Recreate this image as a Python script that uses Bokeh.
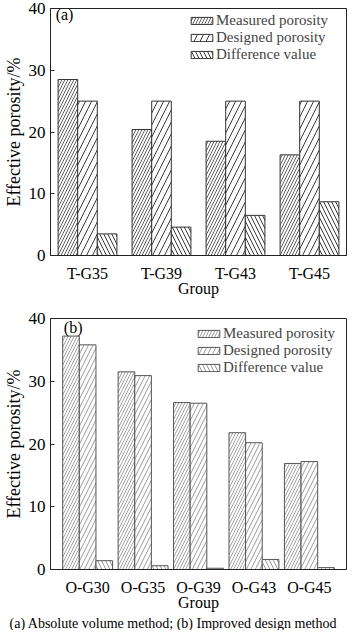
from bokeh.plotting import figure
from bokeh.models import (FactorRange, Range1d, ColumnDataSource, Legend, LegendItem,
                          Label, Title, FixedTicker)
from bokeh.transform import dodge
from bokeh.layouts import column
from bokeh.embed import file_html
from bokeh.resources import INLINE

# ---- data ----
groups_a = ["T-G35", "T-G39", "T-G43", "T-G45"]
measured_a = [28.5, 20.4, 18.5, 16.3]
designed_a = [25.0, 25.0, 25.0, 25.0]
difference_a = [3.5, 4.6, 6.5, 8.7]

groups_b = ["O-G30", "O-G35", "O-G39", "O-G43", "O-G45"]
measured_b = [37.2, 31.5, 26.6, 21.8, 16.9]
designed_b = [35.8, 30.9, 26.5, 20.2, 17.2]
difference_b = [1.4, 0.6, 0.2, 1.6, 0.3]

series_names = ["Measured porosity", "Designed porosity", "Difference value"]
y_ticks = [0, 10, 20, 30, 40]

FONT = "Liberation Serif"


def make_panel(groups, meas, des, diff, tag, tag_y, height, top, bottom, bar_w, pad,
               hatch_col, line_col, scales, legend_loc, caption=None):
    src = ColumnDataSource(dict(group=groups, measured=meas, designed=des, diff=diff))
    xr = FactorRange(factors=groups, range_padding=pad, range_padding_units="absolute")
    p = figure(x_range=xr, y_range=Range1d(0, 40), width=348, height=height,
               output_backend="svg", toolbar_location=None,
               min_border_left=44, min_border_right=2,
               min_border_top=top, min_border_bottom=bottom)
    p.background_fill_color = "white"
    p.border_fill_color = "white"
    p.xgrid.visible = False
    p.ygrid.visible = False
    p.outline_line_color = "#222222"
    p.outline_line_width = 1

    fields = ["measured", "designed", "diff"]
    offsets = [-bar_w, 0.0, bar_w]
    patterns = ["/", "/", "\\"]
    rends = []
    for f, off, pat, (sc, wt) in zip(fields, offsets, patterns, scales):
        r = p.vbar(x=dodge("group", off, range=p.x_range), top=f, width=bar_w,
                   source=src, fill_color="white", line_color=line_col, line_width=1,
                   hatch_pattern=pat, hatch_scale=sc, hatch_color=hatch_col,
                   hatch_weight=wt)
        rends.append(r)

    legend = Legend(items=[LegendItem(label=n, renderers=[r]) for n, r in zip(series_names, rends)],
                    location=legend_loc, orientation="vertical",
                    label_text_font=FONT, label_text_font_size="15px",
                    glyph_width=27, glyph_height=9, label_height=15, label_standoff=1,
                    spacing=0, padding=0, margin=0,
                    border_line_alpha=0, background_fill_alpha=0)
    p.add_layout(legend, "center")

    p.add_layout(Label(x=0.07, y=tag_y, text=tag, text_font=FONT, text_font_size="16px",
                       text_baseline="middle", text_color="black"))

    p.yaxis.ticker = FixedTicker(ticks=y_ticks)
    p.yaxis.axis_label = "Effective porosity/%"
    p.yaxis.axis_label_text_font = FONT
    p.yaxis.axis_label_text_font_size = "18px"
    p.yaxis.axis_label_text_font_style = "normal"
    p.yaxis.axis_label_standoff = 2
    p.yaxis.major_label_text_font = FONT
    p.yaxis.major_label_text_font_size = "17px"
    p.yaxis.major_label_standoff = 5
    p.yaxis.major_tick_in = 4
    p.yaxis.major_tick_out = 0
    p.yaxis.minor_tick_in = 0
    p.yaxis.minor_tick_out = 0

    p.xaxis.axis_label = "Group"
    p.xaxis.axis_label_text_font = FONT
    p.xaxis.axis_label_text_font_size = "16px"
    p.xaxis.axis_label_text_font_style = "normal"
    p.xaxis.axis_label_standoff = -5
    p.xaxis.major_label_text_font = FONT
    p.xaxis.major_label_text_font_size = "16px"
    p.xaxis.major_label_standoff = 9
    p.xaxis.major_tick_in = 0
    p.xaxis.major_tick_out = 0

    for ax in (p.xaxis[0], p.yaxis[0]):
        ax.axis_line_color = "#222222"
        ax.major_tick_line_color = "#222222"
        ax.major_label_text_color = "black"
        ax.axis_label_text_color = "black"

    if caption:
        p.add_layout(Title(text=caption, align="left", offset=-41, text_font=FONT,
                           text_font_size="14px", text_font_style="normal",
                           text_color="black", standoff=0), "below")
    return p


pa = make_panel(groups_a, measured_a, designed_a, difference_a, "(a)", 39.0,
                height=299, top=8, bottom=20, bar_w=0.265, pad=0.0,
                hatch_col="#3a3a3a", line_col="#333333",
                scales=[(6, 0.8), (12, 1.0), (8, 1.0)],
                legend_loc=(138, 192))
pb = make_panel(groups_b, measured_b, designed_b, difference_b, "(b)", 38.5,
                height=331, top=19, bottom=20, bar_w=0.3, pad=0.17,
                hatch_col="#9a9a9a", line_col="#555555",
                scales=[(6, 0.9), (9, 1.0), (8, 1.0)],
                legend_loc=(145, 193),
                caption="(a) Absolute volume method; (b) Improved design method")

layout = column(pa, pb, spacing=0)
open("out.html", "w").write(file_html(layout, INLINE))
